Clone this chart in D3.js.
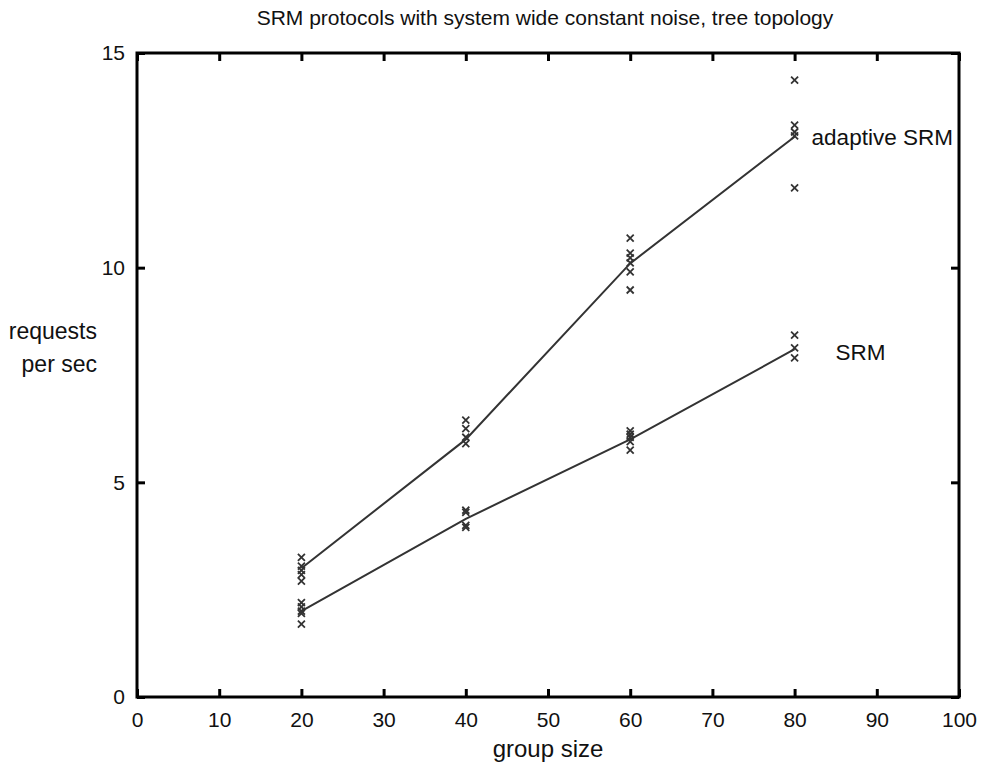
<!DOCTYPE html>
<html>
<head>
<meta charset="utf-8">
<script src="https://cdn.jsdelivr.net/npm/d3@7"></script>
<style>
  body { margin: 0; background: #fff; }
  text { font-family: "Liberation Sans", Arial, sans-serif; fill: #111; }
</style>
</head>
<body>
<div id="container"></div>
<script>
// group sizes where runs were made
const groupSizes = [20, 40, 60, 80];

// individual runs (x marks)
const adaptiveRuns = [
  [3.25, 3.05, 2.95, 2.85, 2.7],
  [6.45, 6.25, 6.05, 5.9],
  [10.69, 10.34, 10.23, 10.11, 9.9, 9.48],
  [14.37, 13.32, 13.16, 13.07, 11.86]
];
const srmRuns = [
  [2.2, 2.1, 2.0, 1.95, 1.7],
  [4.35, 4.3, 4.0, 3.95],
  [6.2, 6.12, 6.05, 5.95, 5.75],
  [8.43, 8.13, 7.9]
];

// fitted lines
const adaptiveLine = [3.0, 6.0, 10.1, 13.05];
const srmLine = [2.0, 4.15, 6.0, 8.1];

const xTicks = [0, 10, 20, 30, 40, 50, 60, 70, 80, 90, 100];
const yTicks = [0, 5, 10, 15];

const w = 986, h = 771;
const margin = {top: 53, left: 137, bottom: 74, right: 27};
const graphWidth = w - margin.left - margin.right;
const graphHeight = h - margin.top - margin.bottom;

const svg = d3.select("#container").append("svg").attr("width", w).attr("height", h);
const graph = svg.append("g").attr("transform", `translate(${margin.left}, ${margin.top})`);

const xScale = d3.scaleLinear().domain([0, 100]).range([0, graphWidth]);
const yScale = d3.scaleLinear().domain([0, 15]).range([graphHeight, 0]);

// frame
graph.append("rect")
  .attr("x", 0).attr("y", 0)
  .attr("width", graphWidth).attr("height", graphHeight)
  .attr("fill", "none").attr("stroke", "#000").attr("stroke-width", 3);

// inward ticks on all four sides
const tickLen = 8;
const xAxis = d3.axisBottom(xScale).tickValues(xTicks).tickSize(-tickLen).tickPadding(15);
const yAxis = d3.axisLeft(yScale).tickValues(yTicks).tickSize(-tickLen).tickPadding(12);
const xAxisTop = d3.axisTop(xScale).tickValues(xTicks).tickSize(-tickLen).tickFormat("");
const yAxisRight = d3.axisRight(yScale).tickValues(yTicks).tickSize(-tickLen).tickFormat("");

const gx = graph.append("g").attr("transform", `translate(0, ${graphHeight})`).call(xAxis);
const gy = graph.append("g").call(yAxis);
const gxt = graph.append("g").call(xAxisTop);
const gyr = graph.append("g").attr("transform", `translate(${graphWidth}, 0)`).call(yAxisRight);

[gx, gy, gxt, gyr].forEach(g => {
  g.select(".domain").remove();
  g.selectAll(".tick line").attr("stroke", "#000").attr("stroke-width", 3);
  g.selectAll("text").style("font-family", '"Liberation Sans", Arial, sans-serif')
    .style("font-size", "21px").attr("fill", "#222");
});

// lines
const line = d3.line().x((d, i) => xScale(groupSizes[i])).y(d => yScale(d));
[adaptiveLine, srmLine].forEach(vals => {
  graph.append("path").datum(vals)
    .attr("d", line)
    .attr("fill", "none")
    .attr("stroke", "#333")
    .attr("stroke-width", 2);
});

// x marks
const marks = [];
[adaptiveRuns, srmRuns].forEach(runs => {
  runs.forEach((vals, i) => vals.forEach(v => marks.push({x: groupSizes[i], y: v})));
});
const s = 3.5;
graph.selectAll(".mark").data(marks).enter().append("path")
  .attr("class", "mark")
  .attr("transform", d => `translate(${xScale(d.x)}, ${yScale(d.y)})`)
  .attr("d", `M${-s},${-s}L${s},${s}M${-s},${s}L${s},${-s}`)
  .attr("stroke", "#333").attr("stroke-width", 1.8).attr("fill", "none");

// series labels
graph.append("text")
  .attr("x", xScale(80) + 17).attr("y", yScale(adaptiveLine[3]) + 8)
  .style("font-size", "22.5px")
  .text("adaptive SRM");
graph.append("text")
  .attr("x", xScale(80) + 41).attr("y", yScale(srmLine[3]) + 11)
  .style("font-size", "22.5px")
  .text("SRM");

// title
svg.append("text")
  .attr("x", 545).attr("y", 25)
  .attr("text-anchor", "middle")
  .style("font-size", "21px")
  .text("SRM protocols with system wide constant noise, tree topology");

// axis labels
svg.append("text")
  .attr("x", 548).attr("y", 757)
  .attr("text-anchor", "middle")
  .style("font-size", "24px")
  .text("group size");

const yLabel = svg.append("text")
  .attr("text-anchor", "end")
  .style("font-size", "23px");
yLabel.append("tspan").attr("x", 97).attr("y", 339).text("requests");
yLabel.append("tspan").attr("x", 97).attr("y", 372).text("per sec");
</script>
</body>
</html>
